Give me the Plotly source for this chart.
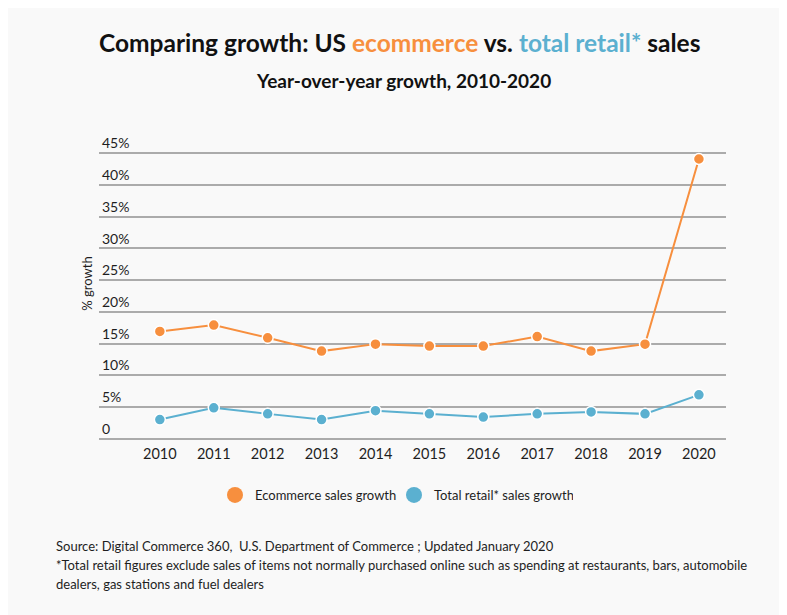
import plotly.graph_objects as go

years = ["2010", "2011", "2012", "2013", "2014", "2015", "2016", "2017", "2018", "2019", "2020"]
ecommerce = [16.9, 17.9, 15.9, 13.8, 14.9, 14.6, 14.6, 16.1, 13.8, 14.9, 44.1]
total_retail = [3.0, 4.85, 3.9, 3.0, 4.4, 3.9, 3.4, 3.9, 4.2, 3.9, 6.9]
y_ticks = [0, 5, 10, 15, 20, 25, 30, 35, 40, 45]
y_tick_labels = ["0", "5%", "10%", "15%", "20%", "25%", "30%", "35%", "40%", "45%"]

ORANGE = "#f78f3e"
BLUE = "#5bb0d0"
FONT = "Lato"
TEXT = "#1e1e1e"
BG = "#f9f9f9"

W, H = 787, 615
OFF = 8  # the page places the figure 8px from the window's top-left corner

# plot area in figure pixels
L_PX, R_PX = 98.5 - OFF, 718.0
T_PX, B_PX = 118.0, 433.0
Y0_PX, Y45_PX = 430.6, 145.3        # pixel rows of the 0 and 45% gridlines
X2010_PX, STEP_PX = 159.4 - OFF, 53.95

per_unit = (Y0_PX - Y45_PX) / 45.0
y_min = -(B_PX - Y0_PX) / per_unit
y_max = 45 + (Y45_PX - T_PX) / per_unit
x_min = -(X2010_PX - L_PX) / STEP_PX
x_max = 10 + (R_PX - (X2010_PX + 10 * STEP_PX)) / STEP_PX


def px(xpix):
    return (xpix - OFF - L_PX) / (R_PX - L_PX)


def py(ypix):
    return (B_PX - (ypix - OFF)) / (B_PX - T_PX)


fig = go.Figure()
fig.add_trace(go.Scatter(
    x=years, y=ecommerce, name="Ecommerce sales growth", mode="lines+markers",
    line=dict(color=ORANGE, width=2), showlegend=False,
    marker=dict(size=11, color=ORANGE, line=dict(color="white", width=1.5)),
))
fig.add_trace(go.Scatter(
    x=years, y=total_retail, name="Total retail* sales growth", mode="lines+markers",
    line=dict(color=BLUE, width=2), showlegend=False,
    marker=dict(size=11, color=BLUE, line=dict(color="white", width=1.5)),
))
# legend entries (circle swatches only)
for name, col in [("Ecommerce sales growth", ORANGE), ("Total retail* sales growth", BLUE)]:
    fig.add_trace(go.Scatter(x=[None], y=[None], name=name, mode="markers",
                             marker=dict(size=17, color=col), showlegend=True,
                             hoverinfo="skip"))

# darker 30% gridline as in the reference
fig.add_shape(type="line", xref="paper", x0=0, x1=1, yref="y", y0=30, y1=30,
              line=dict(color="#333333", width=1.2), layer="below")

fig.update_layout(
    width=W, height=H,
    paper_bgcolor=BG, plot_bgcolor=BG,
    font=dict(family=FONT, color=TEXT, size=13),
    margin=dict(l=L_PX, r=W - R_PX, t=T_PX, b=H - B_PX, pad=0, autoexpand=False),
    showlegend=True,
    legend=dict(orientation="h", xref="container", yref="container",
                x=(394 - OFF) / W, xanchor="center", y=1 - (495 - OFF) / H, yanchor="middle",
                font=dict(size=13, family=FONT, color=TEXT), entrywidth=134,
                itemsizing="trace", bgcolor="rgba(0,0,0,0)", tracegroupgap=0),
    xaxis=dict(type="category", range=[x_min, x_max], showgrid=False,
               zeroline=False, showline=False, ticks="", automargin=False,
               tickfont=dict(size=14.5, family=FONT, color=TEXT), ticklabelstandoff=2),
    yaxis=dict(range=[y_min, y_max], tickvals=y_ticks, ticktext=y_tick_labels,
               showgrid=True, gridcolor="#ababab", gridwidth=1.5,
               zeroline=False, showline=False, ticks="", automargin=False,
               ticklabelposition="inside top",
               tickfont=dict(size=14, family=FONT, color=TEXT),
               title=dict(text="% growth", standoff=6,
                          font=dict(size=13, family=FONT, color=TEXT))),
)

# centre the y-axis title on the 0-45% span rather than the full plot height
fig.layout.yaxis.domain = [0, 1]

fig.add_annotation(
    text="<b>Comparing growth: US <span style='color:%s'>ecommerce</span> vs. "
         "<span style='color:%s'>total retail*</span> sales</b>" % (ORANGE, BLUE),
    xref="paper", yref="paper", x=px(399.5), y=py(42), showarrow=False,
    xanchor="center", yanchor="middle",
    font=dict(size=24.5, family=FONT, color="#111111"),
)
fig.add_annotation(
    text="<b>Year-over-year growth, 2010-2020</b>",
    xref="paper", yref="paper", x=px(403), y=py(80), showarrow=False,
    xanchor="center", yanchor="middle",
    font=dict(size=19, family=FONT, color="#111111"),
)

notes = [
    "Source: Digital Commerce 360,  U.S. Department of Commerce ; Updated January 2020",
    "*Total retail figures exclude sales of items not normally purchased online such as spending at restaurants, bars, automobile",
    "dealers, gas stations and fuel dealers",
]
note_y = [545.5, 565, 584]
for t, yp in zip(notes, note_y):
    fig.add_annotation(text=t, xref="paper", yref="paper", showarrow=False,
                       x=px(53), y=py(yp), xanchor="left", yanchor="middle",
                       font=dict(size=13, family=FONT, color=TEXT))

fig.write_html("out.html")
